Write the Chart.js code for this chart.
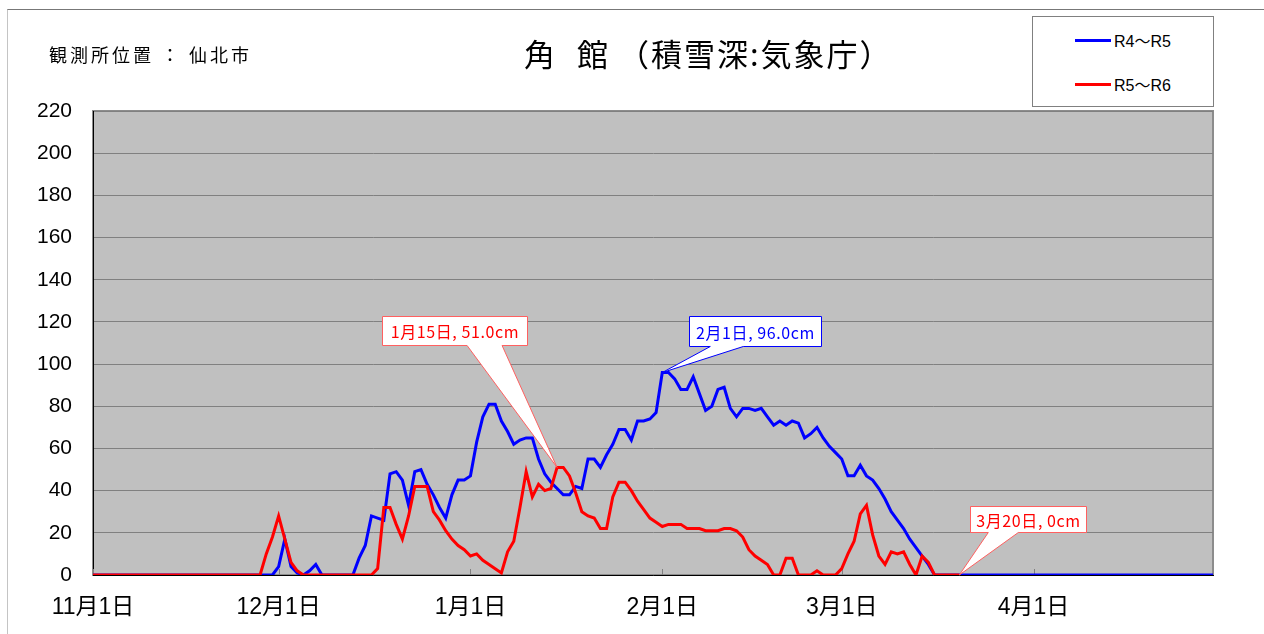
<!DOCTYPE html>
<html lang="ja">
<head>
<meta charset="utf-8">
<script src="https://cdn.jsdelivr.net/npm/chart.js@4.4.1/dist/chart.umd.min.js"></script>
<style>
  html, body { margin: 0; padding: 0; background: #fff; }
  body { width: 1264px; height: 634px; position: relative; overflow: hidden; font-family: "Noto Sans CJK JP", sans-serif; }
  #frame { position: absolute; left: 7px; top: 9px; width: 1300px; height: 700px; border-top: 1px solid #777; border-left: 1px solid #c4c4c4; }
  #chart { position: absolute; left: 0; top: 0; }
  #place { position: absolute; left: 49px; top: 41px; font-size: 18px; letter-spacing: 3px; color: #000; white-space: pre; }
  #title { position: absolute; left: 524px; top: 30px; font-size: 31px; letter-spacing: 2px; color: #000; white-space: pre; }
  #legend { position: absolute; left: 1032px; top: 16px; width: 182px; height: 91px; border: 1px solid #808080; background: #fff; box-sizing: border-box; }
  .item { position: absolute; left: 42px; height: 20px; display: flex; align-items: center; font-family: "Liberation Sans", "Noto Sans CJK JP", sans-serif; font-size: 16px; }
  .item i { display: inline-block; width: 36px; height: 3px; margin-right: 3px; }
</style>
</head>
<body>
<div id="frame"></div>
<canvas id="chart" width="1264" height="634"></canvas>
<div id="place">観測所位置 ： 仙北市</div>
<div id="title">角<span style="margin-left:20px">館</span><span style="margin-left:8px">（積雪深:気象庁）</span></div>
<div id="legend"></div>
<script>
// Season axis: Nov 1 .. Apr 30 (Feb with 29 days)
const monthNames = ["11月", "12月", "1月", "2月", "3月", "4月"];
const monthDays = [30, 31, 31, 29, 31, 30];

const seriesNames = ["R4～R5", "R5～R6"];
const seriesColors = ["#0000ff", "#ff0000"];

// R4~R5 snow depth (cm), one value per day from Nov 1
const depthR4 = [
  0, 0, 0, 0, 0, 0, 0, 0, 0, 0, 0, 0, 0, 0, 0, 0, 0, 0, 0, 0,
  0, 0, 0, 0, 0, 0, 0, 0, 0, 0, 4, 17, 4, 1, 0, 2, 5, 0, 0, 0,
  0, 0, 0, 8, 14, 28, 27, 26, 48, 49, 45, 33, 49, 50, 43, 38, 32, 27, 38, 45,
  45, 47, 63, 75, 81, 81, 73, 68, 62, 64, 65, 65, 55, 48, 44, 41, 38, 38, 42, 41,
  55, 55, 51, 57, 62, 69, 69, 64, 73, 73, 74, 77, 96, 96, 93, 88, 88, 94, 86, 78,
  80, 88, 89, 79, 75, 79, 79, 78, 79, 75, 71, 73, 71, 73, 72, 65, 67, 70, 65, 61,
  58, 55, 47, 47, 52, 47, 45, 41, 36, 30, 26, 22, 17, 13, 9, 5, 0, 0, 0, 0,
  0, 0, 0, 0, 0, 0, 0, 0, 0, 0, 0, 0, 0, 0, 0, 0, 0, 0, 0, 0,
  0, 0, 0, 0, 0, 0, 0, 0, 0, 0, 0, 0, 0, 0, 0, 0, 0, 0, 0, 0,
  0, 0
];

// R5~R6 snow depth (cm), Nov 1 .. Mar 20
const depthR5 = [
  0, 0, 0, 0, 0, 0, 0, 0, 0, 0, 0, 0, 0, 0, 0, 0, 0, 0, 0, 0,
  0, 0, 0, 0, 0, 0, 0, 0, 10, 18, 28, 17, 6, 2, 0, 0, 0, 0, 0, 0,
  0, 0, 0, 0, 0, 0, 3, 32, 32, 24, 17, 28, 42, 42, 42, 30, 26, 21, 17, 14,
  12, 9, 10, 7, 5, 3, 1, 11, 16, 32, 49, 37, 43, 40, 41, 51, 51, 47, 39, 30,
  28, 27, 22, 22, 37, 44, 44, 40, 35, 31, 27, 25, 23, 24, 24, 24, 22, 22, 22, 21,
  21, 21, 22, 22, 21, 18, 12, 9, 7, 5, 0, 0, 8, 8, 0, 0, 0, 2, 0, 0,
  0, 3, 10, 16, 29, 33, 19, 9, 5, 11, 10, 11, 5, 0, 9, 6, 0, 0, 0, 0,
  0
];

const yTicks = [0, 20, 40, 60, 80, 100, 120, 140, 160, 180, 200, 220];

// callouts: series index, day index, text
const callouts = [
  { series: 1, day: 75, text: "1月15日, 51.0cm", border: "#ff6060", box: [-175, -151, 145, 29], base: [-90, -55] },
  { series: 0, day: 92, text: "2月1日, 96.0cm", border: "#0000ff", box: [27, -57, 132, 30], base: [48, 81] },
  { series: 1, day: 140, text: "3月20日, 0cm", border: "#ff6060", box: [11, -69, 116, 26], base: [29, 59] }
];

// build daily labels and month start indices
const dayLabels = [];
const monthStarts = [];
monthNames.forEach((m, k) => {
  monthStarts.push(dayLabels.length);
  for (let d = 1; d <= monthDays[k]; d++) dayLabels.push(m + d + "日");
});

const plotBg = {
  id: "plotBg",
  beforeDraw(chart) {
    const { ctx, chartArea: a } = chart;
    ctx.save();
    ctx.fillStyle = "#c0c0c0";
    ctx.fillRect(a.left, a.top, a.right - a.left, a.bottom - a.top);
    ctx.strokeStyle = "#8c8c8c";
    ctx.lineWidth = 2;
    ctx.strokeRect(a.left, a.top, a.right - a.left, a.bottom - a.top);
    ctx.restore();
  },
  beforeDatasetsDraw(chart) {
    const { ctx, chartArea: a, scales } = chart;
    ctx.save();
    ctx.strokeStyle = "#808080";
    ctx.lineWidth = 1;
    monthStarts.forEach(i => {
      const x = Math.round(scales.x.getPixelForValue(i)) + 0.5;
      ctx.beginPath();
      ctx.moveTo(x, a.bottom);
      ctx.lineTo(x, a.bottom - 6);
      ctx.stroke();
    });
    ctx.restore();
  }
};

const calloutPlugin = {
  id: "callouts",
  afterDatasetsDraw(chart) {
    const { ctx, scales } = chart;
    callouts.forEach(c => {
      const data = chart.data.datasets[c.series].data;
      const px = scales.x.getPixelForValue(c.day);
      const py = scales.y.getPixelForValue(data[c.day]);
      const [dx, dy, w, h] = c.box;
      const L = Math.round(px + dx) + 0.5, T = Math.round(py + dy) + 0.5;
      const R = L + w, B = T + h;
      const b1 = px + c.base[0], b2 = px + c.base[1];
      ctx.save();
      ctx.beginPath();
      ctx.moveTo(L, T);
      ctx.lineTo(R, T);
      ctx.lineTo(R, B);
      ctx.lineTo(b2, B);
      ctx.lineTo(px, py);
      ctx.lineTo(b1, B);
      ctx.lineTo(L, B);
      ctx.closePath();
      ctx.fillStyle = "#ffffff";
      ctx.fill();
      ctx.strokeStyle = c.border;
      ctx.lineWidth = 1;
      ctx.stroke();
      ctx.fillStyle = seriesColors[c.series];
      ctx.font = '16px "Noto Sans CJK JP", sans-serif';
      ctx.letterSpacing = "0.6px";
      ctx.textAlign = "center";
      ctx.textBaseline = "middle";
      ctx.fillText(c.text, (L + R) / 2, (T + B) / 2 + 1);
      ctx.restore();
    });
  }
};

const chart = new Chart(document.getElementById("chart"), {
  type: "line",
  data: {
    labels: dayLabels,
    datasets: [
      { label: seriesNames[0], data: depthR4, borderColor: seriesColors[0], borderWidth: 3, pointRadius: 0, tension: 0, order: 2 },
      { label: seriesNames[1], data: depthR5, borderColor: seriesColors[1], borderWidth: 3, pointRadius: 0, tension: 0, order: 1 }
    ]
  },
  options: {
    responsive: false,
    devicePixelRatio: 1,
    animation: false,
    layout: { padding: { top: 111, right: 51, left: 0, bottom: 0 } },
    plugins: { legend: { display: false }, tooltip: { enabled: false } },
    scales: {
      x: {
        type: "category",
        grid: { display: false, drawTicks: false },
        border: { display: true, color: "#000", width: 1 },
        afterFit: s => { s.height = 59; },
        ticks: {
          autoSkip: false,
          maxRotation: 0,
          minRotation: 0,
          padding: 19,
          color: "#000",
          font: { family: '"Liberation Sans", "Noto Sans CJK JP", sans-serif', size: 23 },
          callback: (v, i) => monthStarts.includes(i) ? dayLabels[i] : ""
        }
      },
      y: {
        min: 0,
        max: 220,
        afterFit: s => { s.width = 93; },
        afterBuildTicks: s => { s.ticks = yTicks.map(v => ({ value: v })); },
        grid: { color: "#808080", lineWidth: 1, drawTicks: false },
        border: { display: true, color: "#000", width: 1 },
        ticks: {
          padding: 21,
          color: "#000",
          font: { family: '"Liberation Sans", sans-serif', size: 21 }
        }
      }
    }
  },
  plugins: [plotBg, calloutPlugin]
});

// legend box from the datasets
const legend = document.getElementById("legend");
chart.data.datasets.forEach((ds, k) => {
  const row = document.createElement("div");
  row.className = "item";
  row.style.top = (13 + k * 44) + "px";
  row.innerHTML = '<i style="background:' + ds.borderColor + '"></i>' + ds.label;
  legend.appendChild(row);
});
</script>
</body>
</html>
